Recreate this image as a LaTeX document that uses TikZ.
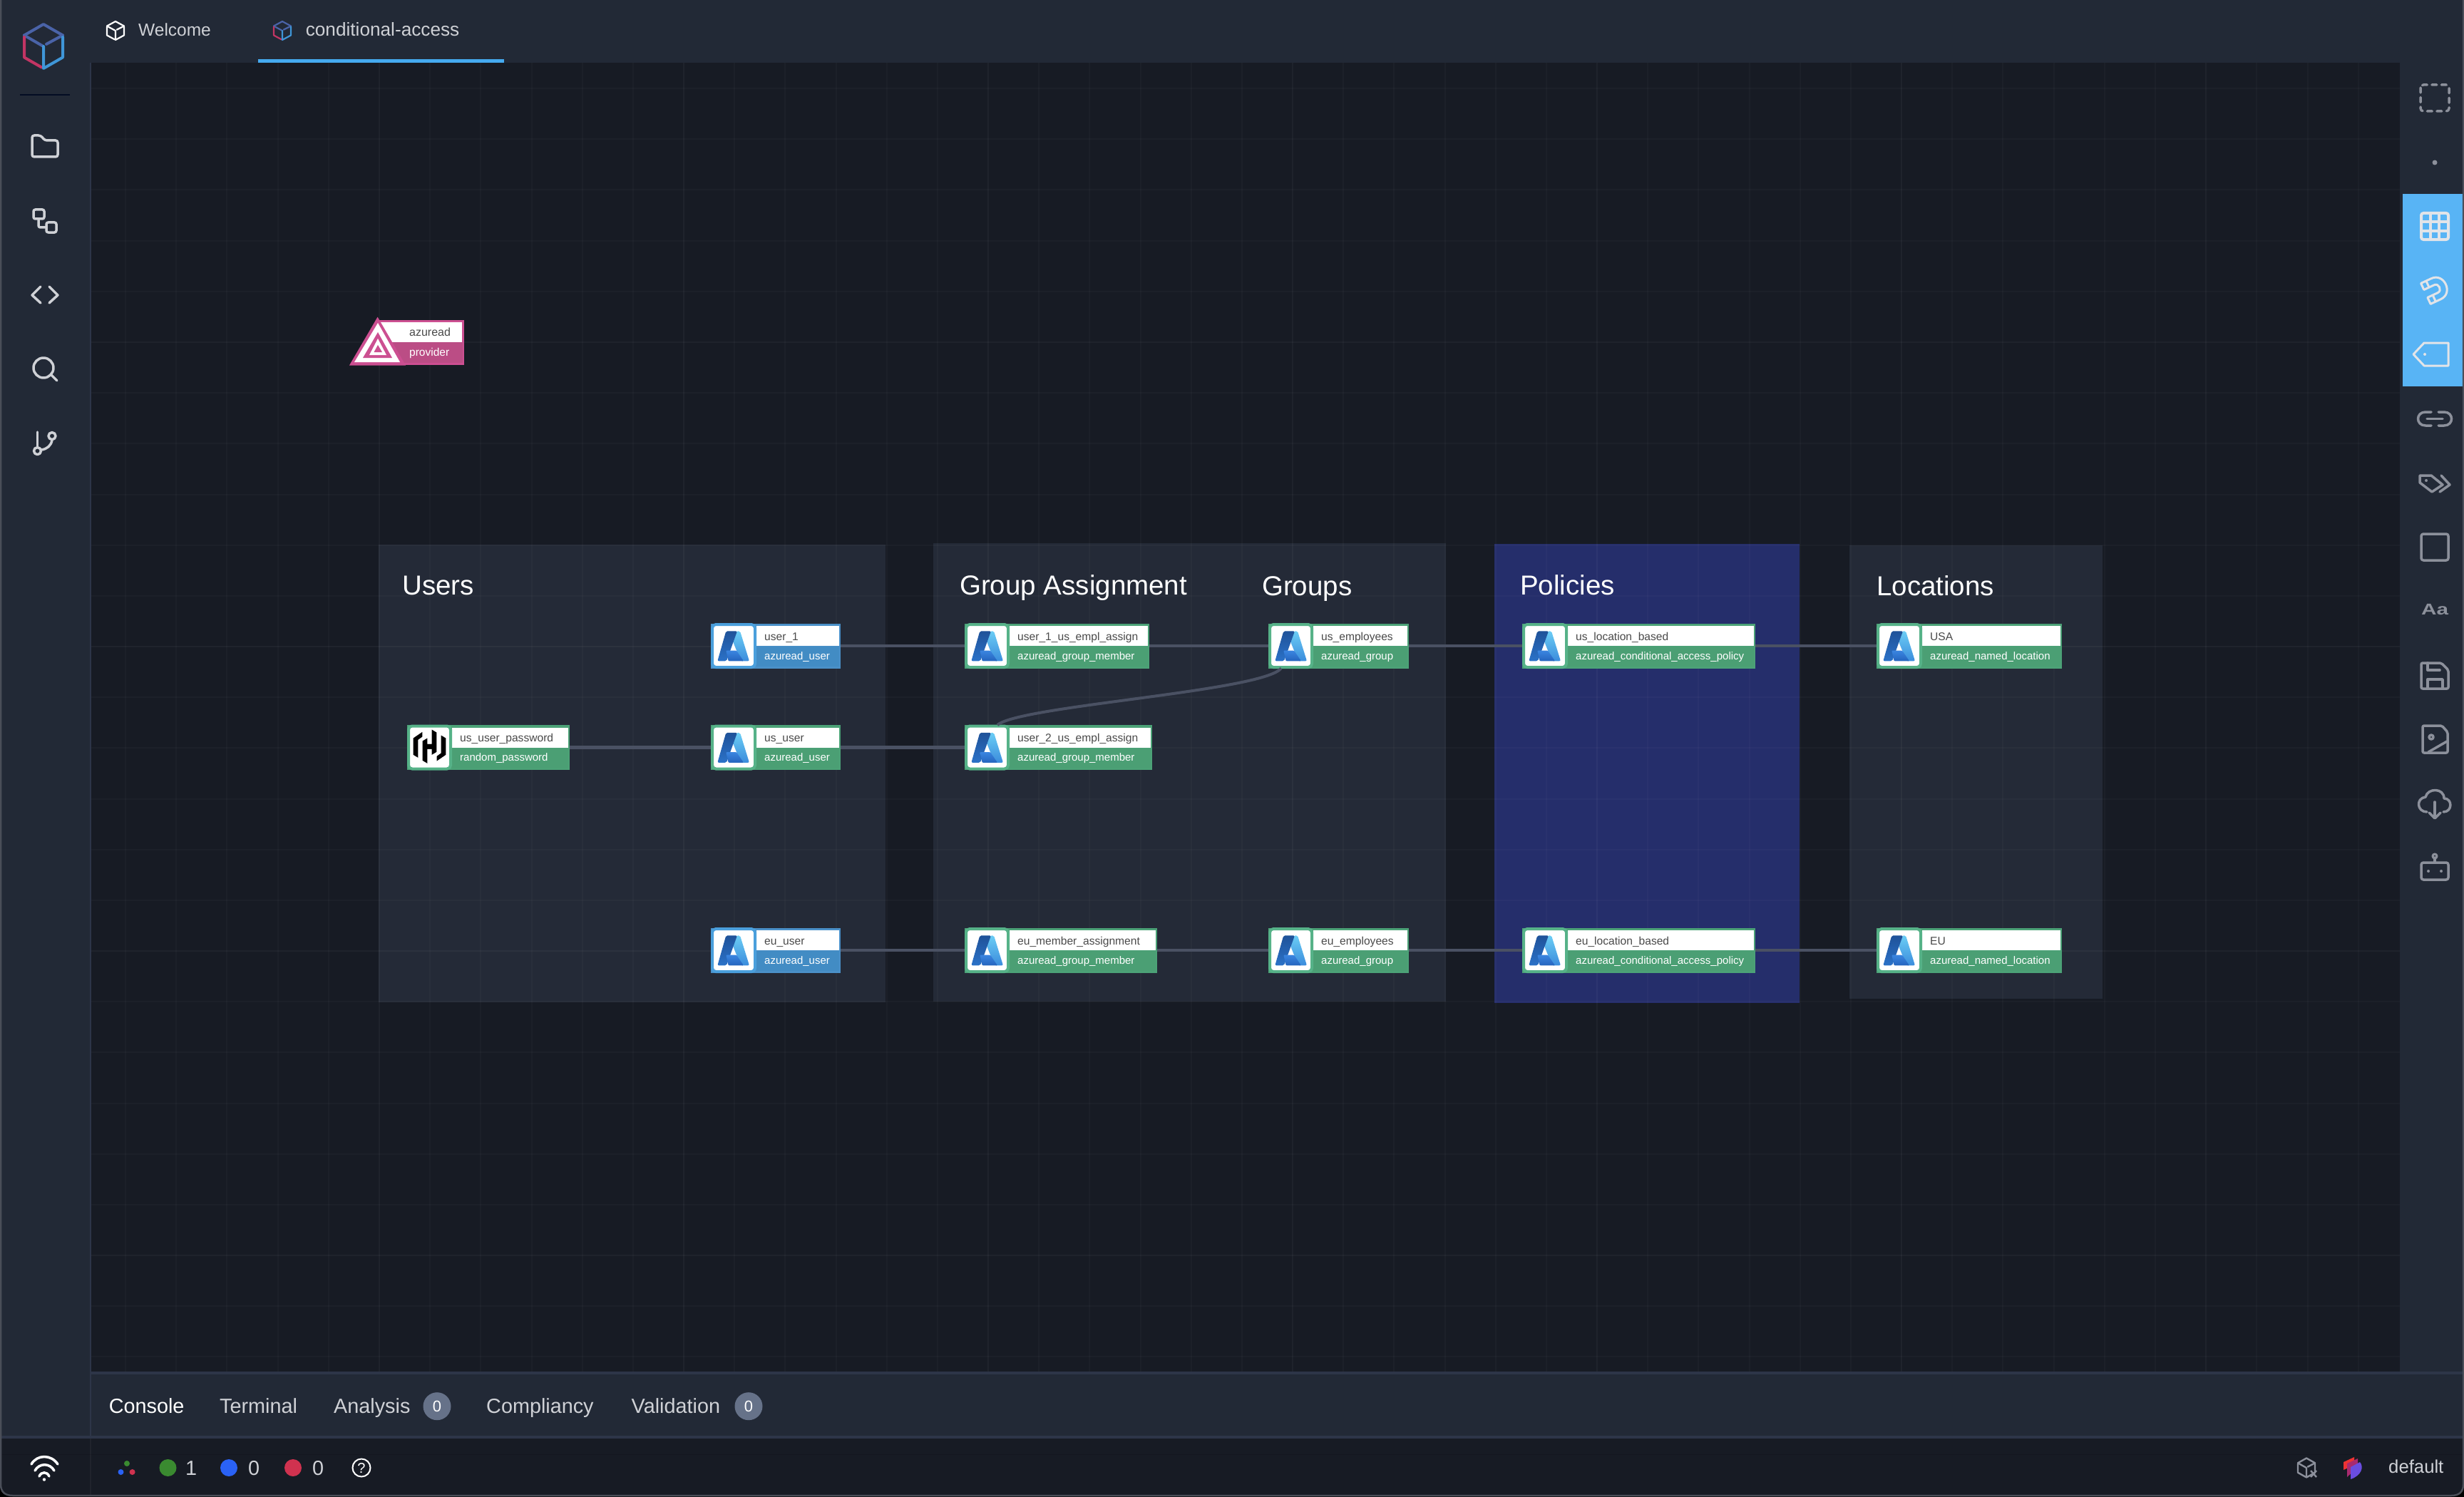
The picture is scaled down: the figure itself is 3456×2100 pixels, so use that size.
\documentclass[tikz,border=0pt]{standalone}
\usepackage{fontspec}
\setmainfont{Liberation Sans}
\usetikzlibrary{calc}
\definecolor{canvasbg}{HTML}{171B24}
\definecolor{chrome}{HTML}{222936}
\definecolor{band}{HTML}{2D3548}
\definecolor{panelbg}{HTML}{242A37}
\definecolor{policybg}{HTML}{252E6B}
\definecolor{wire}{HTML}{4A5163}
\definecolor{gbody}{HTML}{4B9F74}
\definecolor{gedge}{HTML}{4CA277}
\definecolor{gicon}{HTML}{56B288}
\definecolor{bbody}{HTML}{428CC4}
\definecolor{bedge}{HTML}{4A90C8}
\definecolor{bicon}{HTML}{4A9FDC}
\definecolor{pinka}{HTML}{CC4F91}
\definecolor{pinkb}{HTML}{BB4D85}
\definecolor{ink}{HTML}{4A4A4A}
\definecolor{soft}{HTML}{CFD1D6}
\definecolor{tool}{HTML}{8C909B}
\definecolor{toolon}{HTML}{E2E4E8}
\definecolor{sky}{HTML}{58B4F5}
\definecolor{tabline}{HTML}{45AAF0}
\definecolor{badge}{HTML}{667289}
\definecolor{lnindigo}{HTML}{4A63A8}
\definecolor{lnred}{HTML}{C23564}
\definecolor{lnblue}{HTML}{3F96D8}
\definecolor{azlighttop}{HTML}{6BCDF5}
\definecolor{azlightbot}{HTML}{3B8CDC}
\definecolor{azdarktop}{HTML}{1F5299}
\definecolor{azdarkbot}{HTML}{2B72C8}
\definecolor{azmidtop}{HTML}{3A85E0}
\definecolor{azmidbot}{HTML}{2565BE}
\definecolor{stgreen}{HTML}{3A8A30}
\definecolor{stblue}{HTML}{2A62F5}
\definecolor{stred}{HTML}{D0324F}
\definecolor{frame}{HTML}{4A4E58}
\definecolor{logored}{HTML}{EE3333}
\definecolor{logomid}{HTML}{A82A70}
\definecolor{logopurple}{HTML}{6A4DE0}
\tikzset{
  bodybox/.style={rectangle,minimum height=63pt,inner sep=0pt,outer sep=0pt},
  iconbox/.style={rectangle,rounded corners=5pt,fill=white,line width=4pt,minimum height=60pt,inner sep=0pt,outer sep=0pt},
  paneltitle/.style={anchor=base west,inner sep=0pt,text=white,font=\fontsize{38.5}{44}\selectfont},
  namelabel/.style={anchor=base west,inner sep=0pt,text=ink,font=\fontsize{15.6}{18}\selectfont},
  typelabel/.style={anchor=base west,inner sep=0pt,text=white,font=\fontsize{15}{18}\selectfont},
  uitext/.style={anchor=base west,inner sep=0pt,text=soft},
  tabfont/.style={font=\fontsize{28.8}{32}\selectfont},
  panelbox/.style={rectangle,inner sep=0pt,outer sep=0pt},
  conn/.style={draw=wire,line width=4.5pt},
  sideicon/.style={draw=soft,line width=3.5pt,line cap=round,line join=round},
  toolicon/.style={draw=tool,line width=3.5pt,line join=round,line cap=round},
  toolonicon/.style={draw=toolon,line width=3.5pt,line join=round,line cap=round},
}
\newcommand\azurelogo[2]{%
  \pgfmathsetmacro\lx{#1-17.33}\pgfmathsetmacro\ly{#2-46}%
  \begin{scope}[shift={(\lx,\ly)},x=0.3333pt,y=-0.3333pt]
    \path[top color=azlighttop,bottom color=azlightbot,rounded corners=2pt] (145,120) -- (160,76) -- (175,76) -- (214,202) -- (178,202) -- cycle;
    \path[top color=azdarktop,bottom color=azdarkbot,rounded corners=2pt] (116,76) -- (163,76) -- (118,202) -- (80,202) -- cycle;
    \path[top color=azmidtop,bottom color=azmidbot,rounded corners=1pt] (116,158) -- (160,158) -- (190,202) -- (126,202) -- cycle;
  \end{scope}}
\newcommand\hashilogo[2]{%
  \pgfmathsetmacro\lx{#1-10.67}\pgfmathsetmacro\ly{#2-49}%
  \begin{scope}[shift={(\lx,\ly)},x=0.3333pt,y=-0.3333pt]
    \fill[black] (58,108) -- (96,82) -- (96,102) -- (78,115) -- (78,190) -- (58,178) -- cycle;
    \fill[black] (195,178) -- (157,204) -- (157,184) -- (175,171) -- (175,96) -- (195,108) -- cycle;
    \fill[black] (97,120) -- (117,108) -- (117,133) -- (137,133) -- (137,153) -- (117,153) -- (117,214) -- (97,202) -- cycle;
    \fill[black] (156,166) -- (136,178) -- (136,153) -- (116,153) -- (116,133) -- (136,133) -- (136,72) -- (156,84) -- cycle;
  \end{scope}}
\newcommand\resnode[9]{%
  \pgfmathsetmacro\nw{#4-#2}\pgfmathsetmacro\iw{#3-#2-4}\pgfmathsetmacro\ix{(#2+#3)/2}%
  \node[bodybox,fill=#6edge,minimum width=\nw pt,anchor=west] (#1) at (#2,#5) {};
  \fill[#6body] (#3,#5+1) rectangle (#4-2,#5+29);
  \fill[white] (#3,#5-28) rectangle (#4-2,#5);
  \node[iconbox,draw=#6icon,minimum width=\iw pt] (#1-icon) at (\ix,#5) {};
  #9{#2}{#5}
  \pgfmathsetmacro\tx{#3+11}%
  \node[namelabel] (#1-name) at (\tx,#5-8) {#7};
  \node[typelabel] (#1-type) at (\tx,#5+19) {#8};
}
\newcommand\panelrect[6]{%
  \pgfmathsetmacro\pw{#4-#2}\pgfmathsetmacro\ph{#5-#3}\pgfmathsetmacro\pcx{(#2+#4)/2}\pgfmathsetmacro\pcy{(#3+#5)/2}%
  \node[panelbox,fill=#6,minimum width=\pw pt,minimum height=\ph pt] (#1) at (\pcx,\pcy) {};
}
\newcommand\hexcube[7]{% cx cy rx ry top left right
  \begin{scope}[shift={(#1,#2)},x=#3pt,y=-#4pt,line cap=round,line join=round]
    \draw[#5] (-1,-0.5) -- (0,-1) -- (1,-0.5);
    \draw[#5] (-1,-0.5) -- (-0.05,-0.02);
    \draw[#5] (0.15,-0.1) -- (1,-0.5);
    \draw[#6] (-1,-0.42) -- (-1,0.5) -- (-0.1,0.95);
    \draw[#7] (1,-0.42) -- (1,0.5) -- (0,1) -- (0,0);
  \end{scope}}
\begin{document}
\begin{tikzpicture}[x=1pt,y=-1pt]
\useasboundingbox (0,0) rectangle (3456,2100);
% canvas
\fill[canvasbg] (0,0) rectangle (3456,2100);
% panels
\panelrect{pusers}{531}{764}{1242}{1406}{panelbg}
\panelrect{pgroups}{1309}{762}{2028}{1405}{panelbg}
\panelrect{ppolicies}{2096}{763}{2524}{1407}{policybg}
\panelrect{plocations}{2594}{765}{2949}{1401}{panelbg}
% grid
\foreach \k in {-5,...,39} {
  \pgfmathsetmacro\gx{532+71.17*\k}
  \draw[white,opacity=0.025,line width=2pt] (\gx,88) -- (\gx,1924);
}
\foreach \k in {-5,...,20} {
  \pgfmathsetmacro\gy{480+71.17*\k}
  \draw[white,opacity=0.025,line width=2pt] (127,\gy) -- (3366,\gy);
}
\foreach \gx in {532,959,1386,1813,2240,2667,3094} {
  \draw[white,opacity=0.015,line width=2pt] (\gx,88) -- (\gx,1924);
}
\foreach \gy in {480,907,1334,1761} {
  \draw[white,opacity=0.015,line width=2pt] (127,\gy) -- (3366,\gy);
}
% panel titles
\node[paneltitle] (tusers) at (564,834) {Users};
\node[paneltitle] (tassign) at (1346,834) {Group Assignment};
\node[paneltitle] (tgroups) at (1770,835) {Groups};
\node[paneltitle] (tpolicies) at (2132,834) {Policies};
\node[paneltitle] (tlocations) at (2632,835) {Locations};
% provider node
\node[rectangle,draw=pinka,line width=3pt,fill=white,minimum width=118pt,minimum height=60pt,inner sep=0pt,outer sep=0pt] (provbox) at (590.5,480) {};
\fill[pinkb] (531,480) rectangle (648.5,509);
\fill[pinka] (529.6,444.6) -- (569,512.5) -- (490,512.5) -- cycle;
\fill[white] (530,453) -- (561,508) -- (497,508) -- cycle;
\fill[pinka] (530,466) -- (550,502) -- (509,502) -- cycle;
\fill[white] (530,475) -- (542,498) -- (518,498) -- cycle;
\fill[pinka] (530,484) -- (536,494) -- (524.5,494) -- cycle;
\node[anchor=base west,inner sep=0pt,text=ink,font=\fontsize{16}{18}\selectfont] (provname) at (574,471) {azuread};
\node[anchor=base west,inner sep=0pt,text=white,font=\fontsize{15.5}{18}\selectfont] (provtype) at (574,499) {provider};
% resource nodes
\resnode{user1}{997}{1061}{1179}{906}{b}{user\_1}{azuread\_user}{\azurelogo}
\resnode{ususer}{997}{1061}{1179}{1048.5}{g}{us\_user}{azuread\_user}{\azurelogo}
\resnode{euuser}{997}{1061}{1179}{1333}{b}{eu\_user}{azuread\_user}{\azurelogo}
\resnode{pwd}{571}{634}{799}{1048.5}{g}{us\_user\_password}{random\_password}{\hashilogo}
\resnode{assign1}{1353}{1416}{1612}{906}{g}{user\_1\_us\_empl\_assign}{azuread\_group\_member}{\azurelogo}
\resnode{assign2}{1353}{1416}{1616}{1048.5}{g}{user\_2\_us\_empl\_assign}{azuread\_group\_member}{\azurelogo}
\resnode{assign3}{1353}{1416}{1623}{1333}{g}{eu\_member\_assignment}{azuread\_group\_member}{\azurelogo}
\resnode{usemp}{1779}{1842}{1976}{906}{g}{us\_employees}{azuread\_group}{\azurelogo}
\resnode{euemp}{1779}{1842}{1976}{1333}{g}{eu\_employees}{azuread\_group}{\azurelogo}
\resnode{uspol}{2135}{2199}{2462}{906}{g}{us\_location\_based}{azuread\_conditional\_access\_policy}{\azurelogo}
\resnode{eupol}{2135}{2199}{2462}{1333}{g}{eu\_location\_based}{azuread\_conditional\_access\_policy}{\azurelogo}
\resnode{usa}{2632}{2696}{2892}{906}{g}{USA}{azuread\_named\_location}{\azurelogo}
\resnode{eu}{2632}{2696}{2892}{1333}{g}{EU}{azuread\_named\_location}{\azurelogo}
% connectors
\draw[conn] (user1.east) -- (assign1.west);
\draw[conn] (assign1.east) -- (usemp.west);
\draw[conn] (usemp.east) -- (uspol.west);
\draw[conn] (uspol.east) -- (usa.west);
\draw[conn] (pwd.east) -- (ususer.west);
\draw[conn] (ususer.east) -- (assign2.west);
\draw[conn] (euuser.east) -- (assign3.west);
\draw[conn] (assign3.east) -- (euemp.west);
\draw[conn] (euemp.east) -- (eupol.west);
\draw[conn] (eupol.east) -- (eu.west);
\draw[conn,line width=4pt] ($(assign2.north west)+(46,0)$) .. controls (1430,990) and (1770,970) .. ($(usemp.south west)+(18,0)$);
% chrome: bars
\fill[chrome] (0,0) rectangle (3456,88);
\fill[chrome] (0,0) rectangle (127,2014);
\fill[chrome] (3366,88) rectangle (3456,1924);
\fill[band] (127,1924) rectangle (3456,1928);
\fill[chrome] (127,1928) rectangle (3456,2014);
\fill[band] (0,2014) rectangle (3456,2018);
\fill[canvasbg] (0,2018) rectangle (3456,2100);
\fill[band] (126,88) rectangle (128,2014);
\fill[sky] (3370,272) rectangle (3456,541.5);
\fill[tabline] (362,83.5) rectangle (707,88);
% left sidebar
\begin{scope}[line width=4pt]
  \hexcube{61}{65}{27}{31}{lnindigo}{lnred}{lnblue}
\end{scope}
\draw[band!120,line width=2pt] (28,132.6) -- (98,132.6);
\draw[sideicon,rounded corners=3pt] (45,190) -- (57,190) -- (63,197) -- (81,197) -- (81,220) -- (45,220) -- cycle;
\draw[sideicon,rounded corners=2.5pt] (47,294) rectangle (62,307);
\draw[sideicon,rounded corners=2.5pt] (65,312) rectangle (79,326);
\draw[sideicon,rounded corners=2.5pt] (54,307) -- (54,319) -- (65,319);
\draw[sideicon] (57,402) -- (45,414) -- (57,425);
\draw[sideicon] (69,402) -- (81,414) -- (69,425);
\draw[sideicon] (61,516) circle (14pt);
\draw[sideicon] (72,526) -- (80,534);
\draw[sideicon] (52.5,606) -- (52.5,627);
\draw[sideicon] (52.5,632.6) circle (5pt);
\draw[sideicon] (73,611.6) circle (5pt);
\draw[sideicon] (73,617) .. controls (72,625) and (66,630) .. (58,631);
% tabs
\begin{scope}[line width=2.2pt]
  \hexcube{162}{43}{12}{13}{white}{white}{white}
  \hexcube{396}{43}{12}{13}{lnindigo}{lnred}{lnblue}
\end{scope}
\node[uitext,font=\fontsize{24.5}{28}\selectfont] (tabwelcome) at (194,51) {Welcome};
\node[uitext,font=\fontsize{26.2}{30}\selectfont] (tabaccess) at (428.6,51) {conditional-access};
% right toolbar
\draw[toolicon,rounded corners=4pt,dash pattern=on 7pt off 6.5pt] (3395,119) rectangle (3435,156);
\fill[tool] (3415,228) circle (3.5pt);
\draw[toolonicon,rounded corners=3pt,line width=4pt] (3396,299) rectangle (3434,336);
\draw[toolonicon,line width=4pt,line cap=butt] (3409,299) -- (3409,336) (3421,299) -- (3421,336) (3396,311) -- (3434,311) (3396,324) -- (3434,324);
\begin{scope}[shift={(3415,406)},rotate=-65]
  \draw[toolonicon,line width=3pt] (-16,14) -- (-16,-2) .. controls (-16,-22) and (16,-22) .. (16,-2) -- (16,14) -- (6,14) -- (6,-2) .. controls (6,-9) and (-6,-9) .. (-6,-2) -- (-6,14) -- cycle (-16,6) -- (-6,6) (6,6) -- (16,6);
\end{scope}
\draw[toolonicon,line width=3pt] (3385,497) -- (3400,481) -- (3434,481) -- (3434,513) -- (3400,513) -- cycle;
\fill[toolon] (3401,497) circle (2pt);
\draw[toolicon] (3410,578) -- (3402,578) .. controls (3388,578) and (3388,597) .. (3402,597) -- (3410,597);
\draw[toolicon] (3420,578) -- (3428,578) .. controls (3442,578) and (3442,597) .. (3428,597) -- (3420,597);
\draw[toolicon] (3404,587.5) -- (3426,587.5);
\draw[toolicon] (3394,667) -- (3410,667) -- (3426,680) -- (3411,690) -- (3394,677) -- cycle;
\fill[tool] (3403,674) circle (2pt);
\draw[toolicon] (3424,667) -- (3436,680) -- (3422,690);
\draw[toolicon,rounded corners=3pt] (3396,749) rectangle (3434,786);
\node[inner sep=0pt,text=tool,font=\fontsize{22}{24}\bfseries\selectfont,xscale=1.35] (toolaa) at (3415,855) {Aa};
\draw[toolicon,rounded corners=2pt] (3396,930) -- (3424,930) -- (3434,940) -- (3434,966) -- (3396,966) -- cycle;
\draw[toolicon] (3405,930) -- (3405,940) -- (3422,940);
\draw[toolicon] (3405,966) -- (3405,953) -- (3426,953) -- (3426,966);
\draw[toolicon,rounded corners=2pt] (3398,1018) -- (3425,1018) -- (3433,1027) -- (3433,1056) -- (3398,1056) -- cycle;
\draw[toolicon] (3410,1034) circle (3pt);
\draw[toolicon] (3406,1055) -- (3432,1040);
\draw[toolicon] (3404,1139) .. controls (3390,1139) and (3388,1120) .. (3402,1118) .. controls (3405,1105) and (3428,1105) .. (3428,1120) .. controls (3440,1120) and (3440,1139) .. (3427,1139);
\draw[toolicon] (3415,1125) -- (3415,1147);
\draw[toolicon] (3407,1140) -- (3415,1148) -- (3423,1140);
\draw[toolicon,rounded corners=3pt] (3396,1210) rectangle (3434,1234);
\draw[toolicon] (3415,1203) -- (3415,1210);
\draw[toolicon,line width=3pt] (3415,1201) circle (3pt);
\fill[tool] (3406,1222) circle (2pt);
\fill[tool] (3424,1222) circle (2pt);
% console tabs
\node[uitext,tabfont,text=white] (tabconsole) at (152.6,1982.7) {Console};
\node[uitext,tabfont] (tabterminal) at (308,1982.7) {Terminal};
\node[uitext,tabfont] (tabanalysis) at (468,1982.7) {Analysis};
\node[circle,fill=badge,minimum size=39pt,inner sep=0pt,text=white,font=\fontsize{22}{24}\selectfont] (badgea) at (613,1972.7) {0};
\node[uitext,tabfont] (tabcomp) at (682,1982.7) {Compliancy};
\node[uitext,tabfont] (tabvalid) at (885.5,1982.7) {Validation};
\node[circle,fill=badge,minimum size=39pt,inner sep=0pt,text=white,font=\fontsize{22}{24}\selectfont] (badgeb) at (1050,1972.7) {0};
% status bar
\draw[white,opacity=0.04,line width=2pt] (127,2018) -- (127,2100);
\begin{scope}[draw=white,line width=3.5pt,line cap=round]
  \draw (44,2054) .. controls (52,2040) and (72,2040) .. (81,2054);
  \draw (49,2063) .. controls (55,2052) and (70,2052) .. (76,2063);
  \draw (55,2071) .. controls (58,2064) and (66,2064) .. (69,2071);
  \fill[white] (62,2075.5) circle (2.2pt);
\end{scope}
\fill[stgreen] (178,2053) circle (4pt);
\fill[stblue] (169.5,2065) circle (4pt);
\fill[stred] (185.6,2065) circle (4pt);
\node[circle,fill=stgreen,minimum size=24pt,inner sep=0pt] (dotg) at (235.5,2059) {};
\node[uitext,tabfont] (numg) at (260,2069) {1};
\node[circle,fill=stblue,minimum size=24pt,inner sep=0pt] (dotb) at (321,2059) {};
\node[uitext,tabfont] (numb) at (348,2069) {0};
\node[circle,fill=stred,minimum size=24pt,inner sep=0pt] (dotr) at (411,2059) {};
\node[uitext,tabfont] (numr) at (438,2069) {0};
\node[circle,draw=white,line width=2pt,minimum size=25pt,inner sep=0pt,text=white,font=\fontsize{20}{22}\selectfont] (helpq) at (507,2059) {?};
\begin{scope}[line width=2.4pt]
  \hexcube{3235}{2059}{12}{13.5}{tool}{tool}{tool}
  \draw[tool,line width=2.4pt] (3241,2063) -- (3249,2072) (3249,2063) -- (3241,2072);
\end{scope}
\fill[logored] (3287,2051) -- (3302,2044) -- (3302,2055) -- (3287,2062) -- cycle;
\fill[logomid] (3292,2053) -- (3307,2046) -- (3307,2058) -- (3292,2072) -- cycle;
\fill[logopurple] (3297,2058) -- (3310,2051) .. controls (3316,2058) and (3312,2070) .. (3297,2075) -- cycle;
\node[uitext,font=\fontsize{25.7}{28}\selectfont] (wsname) at (3350,2066.7) {default};
% window frame
\fill[black,even odd rule] (0,2040) rectangle (3456,2100)
  (0,2040) -- (3456,2040) -- (3456,2082) .. controls (3456,2094) and (3450,2098) .. (3438,2098) -- (18,2098) .. controls (6,2098) and (0,2094) .. (0,2082) -- cycle;
\draw[frame,line width=2.5pt] (1,0) -- (1,2082) .. controls (1,2093) and (7,2098) .. (18,2098) -- (3438,2098) .. controls (3449,2098) and (3455,2093) .. (3455,2082) -- (3455,0);
\end{tikzpicture}
\end{document}
